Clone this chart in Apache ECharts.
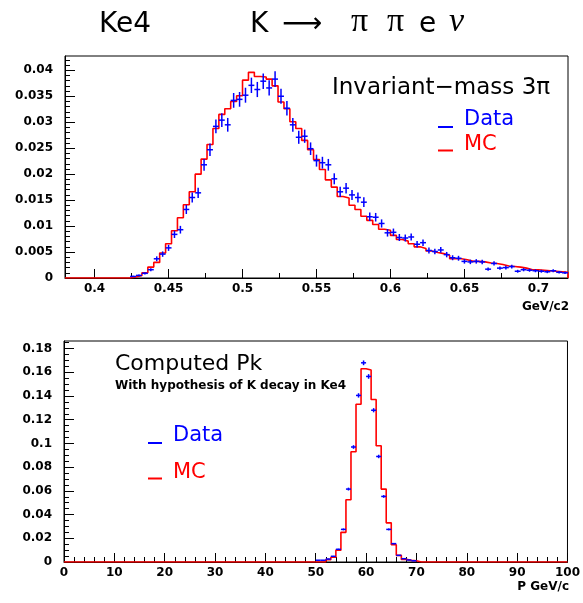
<!DOCTYPE html>
<html><head><meta charset="utf-8">
<script src="https://cdn.jsdelivr.net/npm/echarts@6/dist/echarts.min.js"></script>
<style>html,body{margin:0;padding:0;background:#fff}#c{width:583px;height:603px}</style>
</head><body><div id="c"></div>
<script>
// ---------- Top histogram: invariant mass of 3 pi (GeV/c2) ----------
const massMin = 0.38, massMax = 0.72, massBinWidth = 0.004;
const massMC = [0,0,0,0,0,0,0,0,0,0,0,
  0.0002,0.0005,0.0010,0.0021,0.0030,0.0048,0.0066,0.0091,0.0116,0.0141,
  0.0166,0.0200,0.0229,0.0257,0.0288,0.0315,0.0326,0.0340,0.0351,0.0381,
  0.0396,0.0388,0.0387,0.0383,0.0370,0.0339,0.0326,0.0301,0.0288,0.0265,
  0.0247,0.0228,0.0209,0.0189,0.0175,0.0157,0.0154,0.0140,0.0132,0.0119,
  0.0111,0.0103,0.0094,0.0092,0.0082,0.0074,0.0071,0.0066,0.0060,0.0057,
  0.0052,0.0049,0.0047,0.0044,0.0037,0.0037,0.0035,0.0032,0.0032,0.0031,
  0.0029,0.0028,0.0026,0.0023,0.0022,0.0021,0.0019,0.0016,0.0016,0.0015,
  0.0014,0.0013,0.0012,0.0011];
const massData = [0,0,0,0,0,0,0,0,0,0,0,
  0.0003,0.0005,0.0009,0.0016,0.0037,0.0046,0.0058,0.0084,0.0093,0.0132,
  0.0155,0.0164,0.0218,0.0247,0.0292,0.0304,0.0295,0.0342,0.0344,0.0352,
  0.0371,0.0363,0.0379,0.0366,0.0383,0.0350,0.0327,0.0295,0.0271,0.0273,
  0.0249,0.0226,0.0222,0.0218,0.0191,0.0166,0.0173,0.0160,0.0155,0.0146,
  0.0118,0.0117,0.0105,0.0087,0.0088,0.0078,0.0077,0.0079,0.0065,0.0068,
  0.0053,0.0051,0.0054,0.0045,0.0039,0.0038,0.0032,0.0031,0.0032,0.0031,
  0.0017,0.0028,0.0019,0.0020,0.0022,0.0013,0.0016,0.0015,0.0014,0.0013,
  0.0012,0.0014,0.0011,0.0010];
const massErr = [0,0,0,0,0,0,0,0,0,0,0,
  0.00013,0.00017,0.00023,0.00030,0.00047,0.00052,0.00058,0.00070,0.00074,0.00088,
  0.00096,0.00098,0.00113,0.00121,0.00131,0.00134,0.00132,0.00142,0.00142,0.00144,
  0.00148,0.00146,0.00150,0.00147,0.00150,0.00144,0.00139,0.00132,0.00126,0.00127,
  0.00121,0.00115,0.00114,0.00113,0.00106,0.00099,0.00101,0.00097,0.00096,0.00093,
  0.00083,0.00083,0.00079,0.00072,0.00072,0.00068,0.00067,0.00068,0.00062,0.00063,
  0.00056,0.00055,0.00056,0.00052,0.00048,0.00047,0.00043,0.00043,0.00043,0.00043,
  0.00032,0.00041,0.00033,0.00034,0.00036,0.00028,0.00031,0.00030,0.00029,0.00028,
  0.00027,0.00029,0.00025,0.00024];
const massXTicks = [0.4,0.45,0.5,0.55,0.6,0.65,0.7];
const massXMinor = [0.425,0.475,0.525,0.575,0.625,0.675];
const massYMax = 0.04275;
const massYTicks = [0,0.005,0.01,0.015,0.02,0.025,0.03,0.035,0.04];
const massYMinor = [0.001,0.002,0.003,0.004,0.006,0.007,0.008,0.009,0.011,0.012,0.013,0.014,
  0.016,0.017,0.018,0.019,0.021,0.022,0.023,0.024,0.026,0.027,0.028,0.029,
  0.031,0.032,0.033,0.034,0.036,0.037,0.038,0.039,0.041,0.042];

// ---------- Bottom histogram: computed Pk (GeV/c) ----------
const pMin = 0, pMax = 100, pBinWidth = 1;
const pMC = [0,0,0,0,0,0,0,0,0,0, 0,0,0,0,0,0,0,0,0,0, 0,0,0,0,0,0,0,0,0,0,
  0,0,0,0,0,0,0,0,0,0, 0,0,0,0,0,0,0,0,0,0,
  0,0,0.002,0.004,0.010,0.025,0.0525,0.093,0.133,0.163,
  0.162,0.137,0.098,0.0615,0.033,0.0146,0.0056,0.0022,0.0014,0.001,
  0,0,0,0,0,0,0,0,0,0, 0,0,0,0,0,0,0,0,0,0, 0,0,0,0,0,0,0,0,0,0];
const pData = [0,0,0,0,0,0,0,0,0,0, 0,0,0,0,0,0,0,0,0,0, 0,0,0,0,0,0,0,0,0,0,
  0,0,0,0,0,0,0,0,0,0, 0,0,0,0,0,0,0,0,0,0,
  0.0015,0.0015,0.0025,0.0048,0.0107,0.0275,0.0615,0.097,0.1405,0.168,
  0.1565,0.128,0.089,0.0553,0.0275,0.0155,0.0056,0.0028,0.0017,0.001,
  0,0,0,0,0,0,0,0,0,0, 0,0,0,0,0,0,0,0,0,0, 0,0,0,0,0,0,0,0,0,0];
const pErr = [0,0,0,0,0,0,0,0,0,0, 0,0,0,0,0,0,0,0,0,0, 0,0,0,0,0,0,0,0,0,0,
  0,0,0,0,0,0,0,0,0,0, 0,0,0,0,0,0,0,0,0,0,
  0.00019,0.00019,0.00024,0.00034,0.0005,0.00081,0.00121,0.00153,0.00184,0.0020,
  0.00194,0.00175,0.00146,0.00115,0.00081,0.00061,0.00037,0.00026,0.0002,0.00015,
  0,0,0,0,0,0,0,0,0,0, 0,0,0,0,0,0,0,0,0,0, 0,0,0,0,0,0,0,0,0,0];
const pXTicks = [0,10,20,30,40,50,60,70,80,90,100];
const pXMinor = [2,4,6,8,12,14,16,18,22,24,26,28,32,34,36,38,42,44,46,48,
  52,54,56,58,62,64,66,68,72,74,76,78,82,84,86,88,92,94,96,98];
const pYMax = 0.1864;
const pYTicks = [0,0.02,0.04,0.06,0.08,0.1,0.12,0.14,0.16,0.18];
const pYMinor = [0.005,0.01,0.015,0.025,0.03,0.035,0.045,0.05,0.055,0.065,0.07,0.075,
  0.085,0.09,0.095,0.105,0.11,0.115,0.125,0.13,0.135,0.145,0.15,0.155,0.165,0.17,0.175,0.185];

// ---------- helpers ----------
function stepData(vals, x0, w) {
  const d = [];
  for (let i = 0; i < vals.length; i++) d.push([x0 + i * w, vals[i]]);
  d.push([x0 + vals.length * w, vals[vals.length - 1]]);
  d.push([x0 + vals.length * w, 0]);
  return d;
}
function pointData(vals, errs, x0, w) {
  const d = [];
  for (let i = 0; i < vals.length; i++) if (vals[i] > 0) d.push([x0 + (i + 0.5) * w, vals[i], errs[i], w]);
  return d;
}
function renderCross(params, api) {
  const c = api.value(0), v = api.value(1), e = api.value(2), w = api.value(3);
  const L = api.coord([c - w / 2, v]), R = api.coord([c + w / 2, v]);
  const T = api.coord([c, v + e]), B = api.coord([c, v - e]);
  const st = { stroke: '#0000ff', lineWidth: 1.5 };
  return { type: 'group', children: [
    { type: 'line', shape: { x1: L[0], y1: L[1], x2: R[0], y2: R[1] }, style: st },
    { type: 'line', shape: { x1: T[0], y1: T[1], x2: B[0], y2: B[1] }, style: st }
  ]};
}
const fmt = v => String(+(+v).toFixed(4));
const labelFont = { fontFamily: 'DejaVu Sans', fontWeight: 'bold', fontSize: 12, color: '#000' };
function mainAxis(gi, min, max, ticks, isX) {
  return {
    type: 'value', gridIndex: gi, min: min, max: max, position: isX ? 'bottom' : 'left',
    axisLine: { show: true, onZero: false, lineStyle: { color: '#000', width: 1 } },
    axisTick: { show: true, inside: true, length: isX ? 9 : 10, customValues: ticks, lineStyle: { color: '#000', width: 1 } },
    axisLabel: Object.assign({ show: true, customValues: ticks, formatter: fmt, margin: isX ? 5 : 12, showMinLabel: true, showMaxLabel: true }, labelFont),
    splitLine: { show: false }, minorTick: { show: false }
  };
}
function minorAxis(gi, min, max, ticks, isX) {
  return {
    type: 'value', gridIndex: gi, min: min, max: max, position: isX ? 'bottom' : 'left',
    axisLine: { show: false },
    axisTick: { show: true, inside: true, length: 5, customValues: ticks, lineStyle: { color: '#000', width: 1 } },
    axisLabel: { show: false }, splitLine: { show: false }
  };
}

const chart = echarts.init(document.getElementById('c'), null, { renderer: 'canvas' });
const font = (s, w, f) => (w || 'normal') + ' ' + s + 'px ' + (f || '"DejaVu Sans"');
function txt(t, x, y, size, color, opts) {
  opts = opts || {};
  return { type: 'text', z: 100, style: { text: t, x: x, y: y, font: font(size, opts.weight, opts.family), fill: color,
    align: opts.align || 'left', verticalAlign: 'middle' } };
}
function dash(x1, x2, y, color) {
  return { type: 'line', z: 100, shape: { x1: x1, y1: y, x2: x2, y2: y }, style: { stroke: color, lineWidth: 2 } };
}

chart.setOption({
  animation: false,
  backgroundColor: '#fff',
  grid: [
    { left: 65, top: 56, width: 503, height: 222, show: true, borderColor: '#000', borderWidth: 1, backgroundColor: 'transparent', containLabel: false },
    { left: 64, top: 341, width: 505, height: 221, show: true, borderColor: '#000', borderWidth: 1, backgroundColor: 'transparent', containLabel: false }
  ],
  xAxis: [
    mainAxis(0, massMin, massMax, massXTicks, true),
    minorAxis(0, massMin, massMax, massXMinor, true),
    mainAxis(1, pMin, pMax, pXTicks, true),
    minorAxis(1, pMin, pMax, pXMinor, true)
  ],
  yAxis: [
    mainAxis(0, 0, massYMax, massYTicks, false),
    minorAxis(0, 0, massYMax, massYMinor, false),
    mainAxis(1, 0, pYMax, pYTicks, false),
    minorAxis(1, 0, pYMax, pYMinor, false)
  ],
  series: [
    { type: 'line', xAxisIndex: 0, yAxisIndex: 0, step: 'end', showSymbol: false, clip: true,
      data: stepData(massMC, massMin, massBinWidth), lineStyle: { color: '#ff0000', width: 1.6 }, z: 3 },
    { type: 'custom', xAxisIndex: 0, yAxisIndex: 0, renderItem: renderCross, clip: true,
      encode: { x: 0, y: 1 }, data: pointData(massData, massErr, massMin, massBinWidth), z: 4 },
    { type: 'line', xAxisIndex: 2, yAxisIndex: 2, step: 'end', showSymbol: false, clip: true,
      data: stepData(pMC, pMin, pBinWidth), lineStyle: { color: '#ff0000', width: 1.6 }, z: 3 },
    { type: 'custom', xAxisIndex: 2, yAxisIndex: 2, renderItem: renderCross, clip: true,
      encode: { x: 0, y: 1 }, data: pointData(pData, pErr, pMin, pBinWidth), z: 4 }
  ],
  graphic: [
    txt('Ke4', 99, 24.3, 28, '#000'),
    txt('K', 250, 24.3, 28, '#000'),
    txt('\u27F6', 282, 24.3, 28, '#000'),
    txt('\u03C0', 351, 22.5, 34, '#000', { family: '"Liberation Serif"' }),
    txt('\u03C0', 387, 22.5, 34, '#000', { family: '"Liberation Serif"' }),
    txt('e', 419, 24.3, 28, '#000'),
    txt('\u03BD', 449, 22.5, 34, '#000', { family: '"Liberation Serif"', weight: 'italic' }),

    txt('Invariant\u2212mass 3\u03C0', 332, 88, 23, '#000'),
    dash(438, 453, 127, '#0000ff'),
    txt('Data', 464, 120, 21, '#0000ff'),
    dash(438, 453, 150.5, '#ff0000'),
    txt('MC', 464, 144.4, 21, '#ff0000'),
    txt('GeV/c2', 569, 307, 12, '#000', { weight: 'bold', align: 'right' }),

    txt('Computed Pk', 115, 364.7, 22, '#000'),
    txt('With hypothesis of K decay in Ke4', 115, 385.5, 12, '#000', { weight: 'bold' }),
    dash(148, 162, 443, '#0000ff'),
    txt('Data', 173, 436, 21, '#0000ff'),
    dash(148, 162, 478.5, '#ff0000'),
    txt('MC', 173, 472.7, 21, '#ff0000'),
    txt('P GeV/c', 569, 586.5, 12, '#000', { weight: 'bold', align: 'right' })
  ]
});
</script></body></html>
